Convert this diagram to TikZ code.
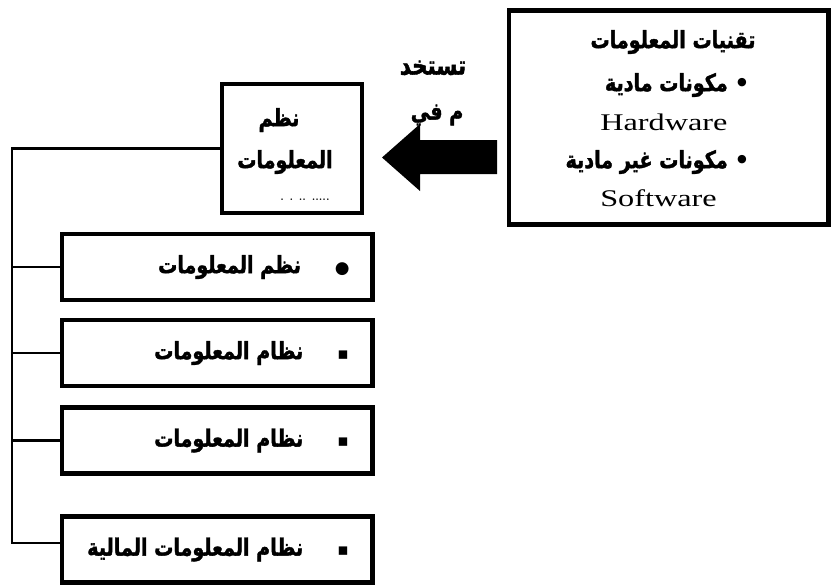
\documentclass[tikz,border=0pt]{standalone}
\usepackage{fontspec}
\newfontfamily\arabicfont[Script=Arabic,FakeStretch=0.8,BoldFeatures={FakeBold=1.5}]{DejaVu Sans}
\newfontfamily\symfont{DejaVu Sans}
\newfontfamily\latinfont[FakeStretch=1.35]{Liberation Serif}
\TeXXeTstate=1
\newcommand{\artext}[1]{{\arabicfont\bfseries\beginR #1\endR}}
\newcommand{\dotmark}{{\symfont\fontsize{12}{12}\selectfont ●}}
\newcommand{\sqmark}{{\symfont\fontsize{12}{12}\selectfont ▪}}
\newcommand{\smalldot}{{\symfont\bfseries •}}

\begin{document}
\begin{tikzpicture}[x=0.025cm, y=-0.025cm,
    box/.style={draw, line width=3.5pt, inner sep=0pt},
    listbox/.style={box, minimum width=7.75cm, minimum height=1.65cm},
    artxt/.style={inner sep=0pt, font=\fontsize{17}{19}\selectfont},
    entxt/.style={inner sep=0pt, font=\latinfont\fontsize{17}{20}\selectfont},
    link/.style={line width=2pt}]
  \useasboundingbox (0,0) rectangle (833,586);

  % information technology box
  \node[box, minimum width=7.975cm, minimum height=5.35cm] (tech) at (668.5,117.5) {};
  \node[artxt] (techtitle) at (673,42) {\artext{تقنيات المعلومات}};
  \node[artxt, anchor=east] (hw) at (750,85) {\artext{\smalldot\ مكونات مادية}};
  \node[entxt, anchor=west] (hwname) at (600,122) {Hardware};
  \node[artxt, anchor=east] (sw) at (750,162) {\artext{\smalldot\ مكونات غير مادية}};
  \node[entxt, anchor=west] (swname) at (600,198) {Software};

  % arrow "used in"
  \fill (382,157.5) -- (420,124) -- (420,140) -- (497,140) -- (497,174) -- (420,174) -- (420,191) -- cycle;
  \node[artxt, font=\fontsize{19}{21}\selectfont] (use1) at (433,68) {\artext{تستخد}};
  \node[artxt] (use2) at (437,115) {\artext{م في}};

  % information systems box
  \node[box, minimum width=3.5cm, minimum height=3.225cm] (sys) at (292,148.5) {};
  \node[artxt] (sys1) at (279,120) {\artext{نظم}};
  \node[artxt] (sys2) at (285,162) {\artext{المعلومات}};
  \node[inner sep=0pt, font=\scriptsize\bfseries] (sys3) at (305,200) {. . .. .....};

  % list of systems
  \node[listbox] (b1) at (217,267) {};
  \node[listbox] (b2) at (217,353) {};
  \node[listbox] (b3) at (217,440.5) {};
  \node[listbox] (b4) at (217,549.5) {};
  \node[artxt, anchor=east] (t1) at (350,267) {\artext{\dotmark\hspace{0.85cm}نظم المعلومات}};
  \node[artxt, anchor=east] (t2) at (349,353) {\artext{\sqmark\hspace{0.85cm}نظام المعلومات}};
  \node[artxt, anchor=east] (t3) at (349,440.5) {\artext{\sqmark\hspace{0.85cm}نظام المعلومات}};
  \node[artxt, anchor=east] (t4) at (349,549.5) {\artext{\sqmark\hspace{0.85cm}نظام المعلومات المالية}};

  % connectors
  \coordinate (foot) at (12,543);
  \draw[link] (sys.west) -| (foot) -- (foot -| b4.west);
  \draw[link] (b1.west) -- (b1.west -| foot);
  \draw[link] (b2.west) -- (b2.west -| foot);
  \draw[link] (b3.west) -- (b3.west -| foot);
\end{tikzpicture}
\end{document}
